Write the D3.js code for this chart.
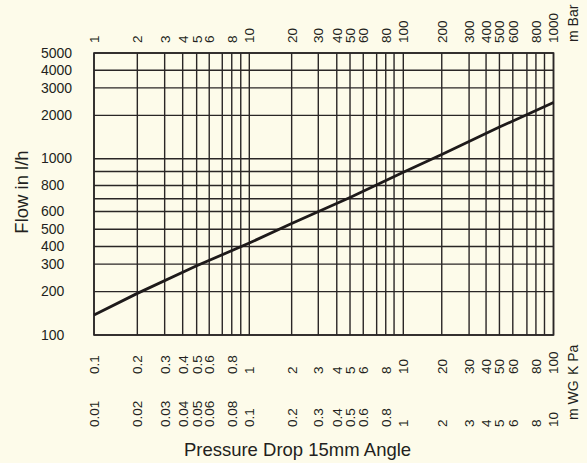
<!DOCTYPE html>
<html>
<head>
<meta charset="utf-8">
<script src="https://cdn.jsdelivr.net/npm/d3@7/dist/d3.min.js"></script>
<style>
  html, body { margin: 0; padding: 0; background: #fdfbea; }
  svg { display: block; }
  text { font-family: "Liberation Sans", Arial, Helvetica, sans-serif; fill: #231f20; }
</style>
</head>
<body>
<svg id="chart" width="587" height="463"></svg>
<script>
// ---------- data ----------
const mBarTicks = [1, 2, 3, 4, 5, 6, 8, 10, 20, 30, 40, 50, 60, 80, 100, 200, 300, 400, 500, 600, 800, 1000];
const kPaTicks  = [0.1, 0.2, 0.3, 0.4, 0.5, 0.6, 0.8, 1, 2, 3, 4, 5, 6, 8, 10, 20, 30, 40, 50, 60, 80, 100];
const mWGTicks  = [0.01, 0.02, 0.03, 0.04, 0.05, 0.06, 0.08, 0.1, 0.2, 0.3, 0.4, 0.5, 0.6, 0.8, 1, 2, 3, 4, 5, 6, 8, 10];
const flowTicks = [100, 200, 300, 400, 500, 600, 800, 1000, 2000, 3000, 4000, 5000];
const pressureGrid = [1, 2, 3, 4, 5, 6, 7, 8, 9, 10, 20, 30, 40, 50, 60, 70, 80, 90,
                      100, 200, 300, 400, 500, 600, 700, 800, 900, 1000];
const flowGrid = [100, 200, 300, 400, 500, 600, 700, 800, 900, 1000, 2000, 3000, 4000, 5000];
const curvePressure = [1, 2, 5, 10, 20, 50, 100, 200, 500, 1000];   // m Bar
const curveFlow     = [146, 196, 294, 420, 532, 710, 894, 1100, 1730, 2470]; // l/h

// ---------- layout ----------
const W = 587, H = 463;
const plot = { left: 94, right: 553.5, top: 53, bottom: 335 };
// relative position of 1..10 inside each decade of the printed (non-uniform) log paper
const xDecadeFrac = [
  [0, .279, .455, .571, .661, .742, .826, .887, .945, 1],
  [0, .275, .448, .568, .654, .740, .827, .886, .940, 1],
  [0, .256, .438, .551, .640, .729, .823, .883, .940, 1]
];
const xDecadeWeight = [155.3, 154, 150.2];
const yDecadeFrac = [
  [0, .246, .402, .502, .600, .701, .773, .848, .928, 1],
  [0, .246, .402, .502, .600, .701, .773, .848, .928, 1]
];
const yDecadeWeight = [1, 1];
const gridColor = "#2a2626";

function paperScale(values, fracs, weights, r0, r1) {
  const e0 = Math.floor(Math.log10(values[0]) + 1e-9);
  const starts = [0];
  weights.forEach((w, i) => starts.push(starts[i] + w));
  const units = values.map(v => {
    const e = Math.floor(Math.log10(v) + 1e-9);
    const k = Math.round(v / Math.pow(10, e));
    const d = e - e0;
    if (d >= weights.length) return starts[weights.length];
    return starts[d] + weights[d] * fracs[d][k - 1];
  });
  const u = d3.scaleLinear().domain([units[0], units[units.length - 1]]).range([r0, r1]);
  return d3.scaleLinear().domain(values).range(units.map(u));
}

const x = paperScale(pressureGrid, xDecadeFrac, xDecadeWeight, plot.left, plot.right);
const y = paperScale(flowGrid, yDecadeFrac, yDecadeWeight, plot.bottom, plot.top);

const svg = d3.select("#chart");
svg.append("rect").attr("width", W).attr("height", H).attr("fill", "#fdfbea");

// grid
const g = svg.append("g");
g.selectAll("line.v").data(pressureGrid).join("line")
  .attr("x1", d => x(d)).attr("x2", d => x(d))
  .attr("y1", plot.top).attr("y2", plot.bottom)
  .attr("stroke", gridColor).attr("stroke-width", 1.4);
g.selectAll("line.h").data(flowGrid).join("line")
  .attr("x1", plot.left).attr("x2", plot.right)
  .attr("y1", d => y(d)).attr("y2", d => y(d))
  .attr("stroke", gridColor).attr("stroke-width", 1.4);
g.append("rect")
  .attr("x", plot.left).attr("y", plot.top)
  .attr("width", plot.right - plot.left).attr("height", plot.bottom - plot.top)
  .attr("fill", "none").attr("stroke", gridColor).attr("stroke-width", 1.6);

// curve
const line = d3.line().x(d => x(d[0])).y(d => y(d[1]));
svg.append("path")
  .datum(curvePressure.map((p, i) => [p, curveFlow[i]]))
  .attr("d", line)
  .attr("fill", "none").attr("stroke", "#1e1a1a").attr("stroke-width", 2.8)
  .attr("stroke-linejoin", "round");

// y tick labels
svg.append("g").selectAll("text").data(flowTicks).join("text")
  .attr("x", 41).attr("y", d => y(d)).attr("dy", "0.33em")
  .attr("font-size", 14).text(d => d);

// rotated x tick label rows
function rotatedRow(data, toMbar, baseY) {
  svg.append("g").selectAll("text").data(data).join("text")
    .attr("transform", d => `translate(${x(toMbar(d))},${baseY}) rotate(-90)`)
    .attr("dy", "0.36em").attr("text-anchor", "start")
    .attr("font-size", 13.5).text(d => d);
}
rotatedRow(mBarTicks, d => d, 43);
rotatedRow(kPaTicks, d => d * 10, 374);
rotatedRow(mWGTicks, d => d * 100, 427);

// unit labels
function unitLabel(txt, baseY) {
  svg.append("text")
    .attr("transform", `translate(573,${baseY}) rotate(-90)`)
    .attr("dy", "0.36em").attr("font-size", 14).text(txt);
}
unitLabel("m Bar", 42);
unitLabel("K Pa", 375);
unitLabel("m WG", 420);

// axis titles
svg.append("text")
  .attr("x", 297.5).attr("y", 456).attr("text-anchor", "middle")
  .attr("font-size", 18.5).text("Pressure Drop 15mm Angle");
svg.append("text")
  .attr("transform", "translate(28,192) rotate(-90)")
  .attr("text-anchor", "middle").attr("font-size", 18.5).text("Flow in l/h");
</script>
</body>
</html>
